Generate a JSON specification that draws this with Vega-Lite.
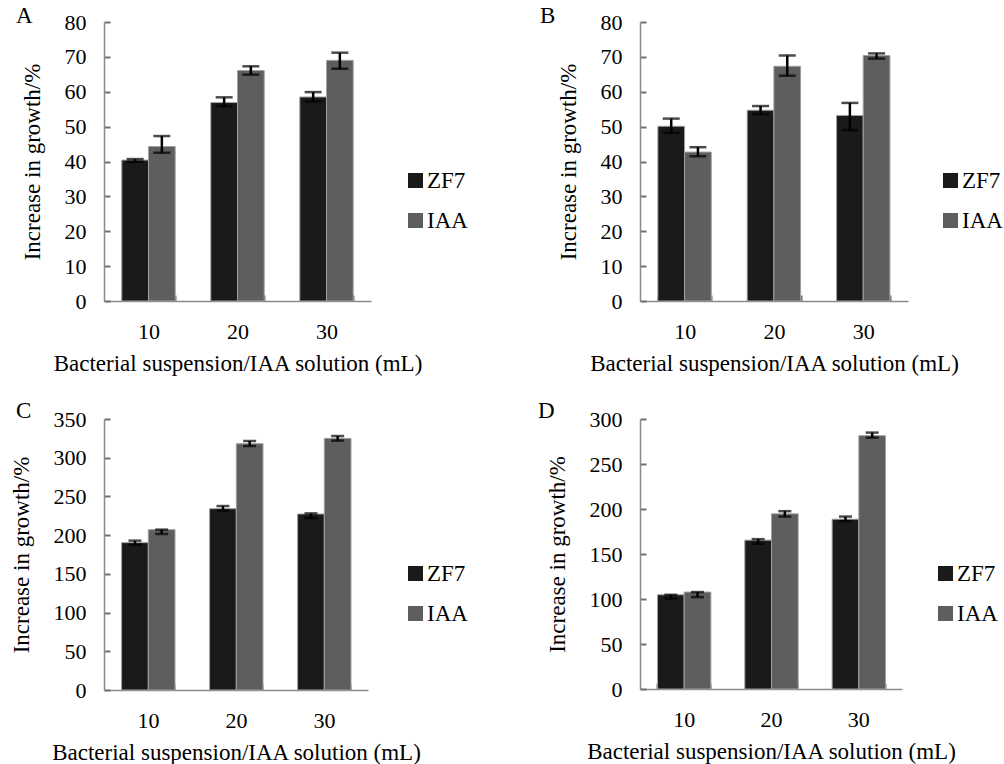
{
  "$schema": "https://vega.github.io/schema/vega-lite/v6.json",
  "padding": {"left": 10, "top": 5, "right": 5, "bottom": 5},
  "background": "white",
  "datasets": {
    "d": [
      {"panel": "A", "dose": "10", "trt": "ZF7", "value": 40.4, "lo": 39.9, "hi": 40.7},
      {"panel": "A", "dose": "10", "trt": "IAA", "value": 44.3, "lo": 42.5, "hi": 47.3},
      {"panel": "A", "dose": "20", "trt": "ZF7", "value": 56.9, "lo": 55.9, "hi": 58.4},
      {"panel": "A", "dose": "20", "trt": "IAA", "value": 66.1, "lo": 64.9, "hi": 67.3},
      {"panel": "A", "dose": "30", "trt": "ZF7", "value": 58.5, "lo": 57.2, "hi": 59.9},
      {"panel": "A", "dose": "30", "trt": "IAA", "value": 69.0, "lo": 66.6, "hi": 71.2},
      {"panel": "B", "dose": "10", "trt": "ZF7", "value": 50.1, "lo": 48.2, "hi": 52.3},
      {"panel": "B", "dose": "10", "trt": "IAA", "value": 42.7, "lo": 41.5, "hi": 44.1},
      {"panel": "B", "dose": "20", "trt": "ZF7", "value": 54.7, "lo": 53.6, "hi": 55.9},
      {"panel": "B", "dose": "20", "trt": "IAA", "value": 67.3, "lo": 64.6, "hi": 70.4},
      {"panel": "B", "dose": "30", "trt": "ZF7", "value": 53.2, "lo": 49.0, "hi": 56.8},
      {"panel": "B", "dose": "30", "trt": "IAA", "value": 70.4, "lo": 69.5, "hi": 71.0},
      {"panel": "C", "dose": "10", "trt": "ZF7", "value": 190.3, "lo": 187.7, "hi": 192.9},
      {"panel": "C", "dose": "10", "trt": "IAA", "value": 207.1, "lo": 201.5, "hi": 207.1},
      {"panel": "C", "dose": "20", "trt": "ZF7", "value": 234.2, "lo": 231.6, "hi": 237.6},
      {"panel": "C", "dose": "20", "trt": "IAA", "value": 318.1, "lo": 315.1, "hi": 321.6},
      {"panel": "C", "dose": "30", "trt": "ZF7", "value": 227.3, "lo": 222.1, "hi": 228.1},
      {"panel": "C", "dose": "30", "trt": "IAA", "value": 325.0, "lo": 322.0, "hi": 328.0},
      {"panel": "D", "dose": "10", "trt": "ZF7", "value": 104.7, "lo": 100.5, "hi": 104.7},
      {"panel": "D", "dose": "10", "trt": "IAA", "value": 107.7, "lo": 102.1, "hi": 107.7},
      {"panel": "D", "dose": "20", "trt": "ZF7", "value": 165.4, "lo": 161.3, "hi": 166.5},
      {"panel": "D", "dose": "20", "trt": "IAA", "value": 194.6, "lo": 191.6, "hi": 197.6},
      {"panel": "D", "dose": "30", "trt": "ZF7", "value": 188.7, "lo": 186.5, "hi": 191.6},
      {"panel": "D", "dose": "30", "trt": "IAA", "value": 281.5, "lo": 279.3, "hi": 284.9}
    ]
  },
  "config": {
    "view": {"stroke": null},
    "font": "Liberation Serif",
    "axis": {
      "grid": false,
      "domainColor": "#8a8a8a",
      "domainWidth": 1.5,
      "tickColor": "#707070",
      "tickWidth": 2,
      "tickSize": -6,
      "labelOverlap": false,
      "labelFont": "Liberation Serif",
      "labelFontSize": 22,
      "labelColor": "#000000",
      "titleFont": "Liberation Serif",
      "titleFontSize": 23,
      "titleFontWeight": "normal",
      "titleColor": "#000000"
    },
    "legend": {
      "labelFont": "Liberation Serif",
      "labelFontSize": 23,
      "labelColor": "#000000",
      "symbolType": "square",
      "symbolSize": 225,
      "symbolStrokeWidth": 0,
      "labelOffset": 0,
      "rowPadding": 16
    },
    "title": {"font": "Liberation Serif", "fontSize": 23, "fontWeight": "normal", "color": "#000000"}
  },
  "bounds": "flush",
  "columns": 2,
  "spacing": {"row": 118, "column": 269},
  "concat": [
    {
      "width": 267, "height": 279,
      "title": {"text": "A", "anchor": "start", "frame": "group", "dx": -88, "dy": 17, "offset": 0},
      "data": {"name": "d"},
      "transform": [{"filter": "datum.panel === 'A'"}],
      "encoding": {
        "x": {"field": "dose", "type": "nominal", "sort": ["10", "20", "30"], "scale": {"paddingInner": 0.4, "paddingOuter": 0.2},
          "axis": {"title": "Bacterial suspension/IAA solution (mL)", "labelAngle": 0, "tickBand": "extent", "labelPadding": 26, "titlePadding": 10}},
        "xOffset": {"field": "trt", "type": "nominal", "sort": ["ZF7", "IAA"]}
      },
      "layer": [
        {"mark": {"type": "bar", "stroke": "#a0a0a0", "strokeWidth": 1},
          "encoding": {
            "y": {"field": "value", "type": "quantitative", "scale": {"domain": [0, 80], "nice": false},
              "axis": {"title": "Increase in growth/%", "values": [0, 10, 20, 30, 40, 50, 60, 70, 80], "labelPadding": 24, "titlePadding": 20}},
            "color": {"field": "trt", "type": "nominal", "scale": {"domain": ["ZF7", "IAA"], "range": ["#1a1a1a", "#5e5e5e"]},
              "legend": {"title": null, "orient": "none", "legendX": 300, "legendY": 147}}
          }},
        {"mark": {"type": "rule", "color": "#000000", "strokeWidth": 2.5},
          "encoding": {"y": {"field": "lo", "type": "quantitative", "axis": {"title": "Increase in growth/%", "values": [0, 10, 20, 30, 40, 50, 60, 70, 80], "labelPadding": 24, "titlePadding": 20}}, "y2": {"field": "hi"}}},
        {"mark": {"type": "tick", "color": "#000000", "thickness": 2.5, "size": 17, "orient": "horizontal"},
          "encoding": {"y": {"field": "lo", "type": "quantitative", "axis": {"title": "Increase in growth/%", "values": [0, 10, 20, 30, 40, 50, 60, 70, 80], "labelPadding": 24, "titlePadding": 20}}}},
        {"mark": {"type": "tick", "color": "#000000", "thickness": 2.5, "size": 17, "orient": "horizontal"},
          "encoding": {"y": {"field": "hi", "type": "quantitative", "axis": {"title": "Increase in growth/%", "values": [0, 10, 20, 30, 40, 50, 60, 70, 80], "labelPadding": 24, "titlePadding": 20}}}}
      ]
    },
    {
      "width": 268, "height": 279,
      "title": {"text": "B", "anchor": "start", "frame": "group", "dx": -100, "dy": 17, "offset": 0},
      "data": {"name": "d"},
      "transform": [{"filter": "datum.panel === 'B'"}],
      "encoding": {
        "x": {"field": "dose", "type": "nominal", "sort": ["10", "20", "30"], "scale": {"paddingInner": 0.4, "paddingOuter": 0.2},
          "axis": {"title": "Bacterial suspension/IAA solution (mL)", "labelAngle": 0, "tickBand": "extent", "labelPadding": 26, "titlePadding": 10}},
        "xOffset": {"field": "trt", "type": "nominal", "sort": ["ZF7", "IAA"]}
      },
      "layer": [
        {"mark": {"type": "bar", "stroke": "#a0a0a0", "strokeWidth": 1},
          "encoding": {
            "y": {"field": "value", "type": "quantitative", "scale": {"domain": [0, 80], "nice": false},
              "axis": {"title": "Increase in growth/%", "values": [0, 10, 20, 30, 40, 50, 60, 70, 80], "labelPadding": 24, "titlePadding": 20}},
            "color": {"field": "trt", "type": "nominal", "scale": {"domain": ["ZF7", "IAA"], "range": ["#1a1a1a", "#5e5e5e"]},
              "legend": {"title": null, "orient": "none", "legendX": 299, "legendY": 147}}
          }},
        {"mark": {"type": "rule", "color": "#000000", "strokeWidth": 2.5},
          "encoding": {"y": {"field": "lo", "type": "quantitative", "axis": {"title": "Increase in growth/%", "values": [0, 10, 20, 30, 40, 50, 60, 70, 80], "labelPadding": 24, "titlePadding": 20}}, "y2": {"field": "hi"}}},
        {"mark": {"type": "tick", "color": "#000000", "thickness": 2.5, "size": 17, "orient": "horizontal"},
          "encoding": {"y": {"field": "lo", "type": "quantitative", "axis": {"title": "Increase in growth/%", "values": [0, 10, 20, 30, 40, 50, 60, 70, 80], "labelPadding": 24, "titlePadding": 20}}}},
        {"mark": {"type": "tick", "color": "#000000", "thickness": 2.5, "size": 17, "orient": "horizontal"},
          "encoding": {"y": {"field": "hi", "type": "quantitative", "axis": {"title": "Increase in growth/%", "values": [0, 10, 20, 30, 40, 50, 60, 70, 80], "labelPadding": 24, "titlePadding": 20}}}}
      ]
    },
    {
      "width": 264, "height": 271,
      "title": {"text": "C", "anchor": "start", "frame": "group", "dx": -88, "dy": 15, "offset": 0},
      "data": {"name": "d"},
      "transform": [{"filter": "datum.panel === 'C'"}],
      "encoding": {
        "x": {"field": "dose", "type": "nominal", "sort": ["10", "20", "30"], "scale": {"paddingInner": 0.4, "paddingOuter": 0.2},
          "axis": {"title": "Bacterial suspension/IAA solution (mL)", "labelAngle": 0, "tickBand": "extent", "labelPadding": 26, "titlePadding": 10}},
        "xOffset": {"field": "trt", "type": "nominal", "sort": ["ZF7", "IAA"]}
      },
      "layer": [
        {"mark": {"type": "bar", "stroke": "#a0a0a0", "strokeWidth": 1},
          "encoding": {
            "y": {"field": "value", "type": "quantitative", "scale": {"domain": [0, 350], "nice": false},
              "axis": {"title": "Increase in growth/%", "values": [0, 50, 100, 150, 200, 250, 300, 350], "labelPadding": 24, "titlePadding": 20}},
            "color": {"field": "trt", "type": "nominal", "scale": {"domain": ["ZF7", "IAA"], "range": ["#1a1a1a", "#5e5e5e"]},
              "legend": {"title": null, "orient": "none", "legendX": 300, "legendY": 143}}
          }},
        {"mark": {"type": "rule", "color": "#000000", "strokeWidth": 2.5},
          "encoding": {"y": {"field": "lo", "type": "quantitative", "axis": {"title": "Increase in growth/%", "values": [0, 50, 100, 150, 200, 250, 300, 350], "labelPadding": 24, "titlePadding": 20}}, "y2": {"field": "hi"}}},
        {"mark": {"type": "tick", "color": "#000000", "thickness": 2.5, "size": 13, "orient": "horizontal"},
          "encoding": {"y": {"field": "lo", "type": "quantitative", "axis": {"title": "Increase in growth/%", "values": [0, 50, 100, 150, 200, 250, 300, 350], "labelPadding": 24, "titlePadding": 20}}}},
        {"mark": {"type": "tick", "color": "#000000", "thickness": 2.5, "size": 13, "orient": "horizontal"},
          "encoding": {"y": {"field": "hi", "type": "quantitative", "axis": {"title": "Increase in growth/%", "values": [0, 50, 100, 150, 200, 250, 300, 350], "labelPadding": 24, "titlePadding": 20}}}}
      ]
    },
    {
      "width": 262, "height": 270,
      "title": {"text": "D", "anchor": "start", "frame": "group", "dx": -102, "dy": 15, "offset": 0},
      "data": {"name": "d"},
      "transform": [{"filter": "datum.panel === 'D'"}],
      "encoding": {
        "x": {"field": "dose", "type": "nominal", "sort": ["10", "20", "30"], "scale": {"paddingInner": 0.4, "paddingOuter": 0.2},
          "axis": {"title": "Bacterial suspension/IAA solution (mL)", "labelAngle": 0, "tickBand": "extent", "labelPadding": 26, "titlePadding": 10}},
        "xOffset": {"field": "trt", "type": "nominal", "sort": ["ZF7", "IAA"]}
      },
      "layer": [
        {"mark": {"type": "bar", "stroke": "#a0a0a0", "strokeWidth": 1},
          "encoding": {
            "y": {"field": "value", "type": "quantitative", "scale": {"domain": [0, 300], "nice": false},
              "axis": {"title": "Increase in growth/%", "values": [0, 50, 100, 150, 200, 250, 300], "labelPadding": 24, "titlePadding": 20}},
            "color": {"field": "trt", "type": "nominal", "scale": {"domain": ["ZF7", "IAA"], "range": ["#1a1a1a", "#5e5e5e"]},
              "legend": {"title": null, "orient": "none", "legendX": 294, "legendY": 143}}
          }},
        {"mark": {"type": "rule", "color": "#000000", "strokeWidth": 2.5},
          "encoding": {"y": {"field": "lo", "type": "quantitative", "axis": {"title": "Increase in growth/%", "values": [0, 50, 100, 150, 200, 250, 300], "labelPadding": 24, "titlePadding": 20}}, "y2": {"field": "hi"}}},
        {"mark": {"type": "tick", "color": "#000000", "thickness": 2.5, "size": 13, "orient": "horizontal"},
          "encoding": {"y": {"field": "lo", "type": "quantitative", "axis": {"title": "Increase in growth/%", "values": [0, 50, 100, 150, 200, 250, 300], "labelPadding": 24, "titlePadding": 20}}}},
        {"mark": {"type": "tick", "color": "#000000", "thickness": 2.5, "size": 13, "orient": "horizontal"},
          "encoding": {"y": {"field": "hi", "type": "quantitative", "axis": {"title": "Increase in growth/%", "values": [0, 50, 100, 150, 200, 250, 300], "labelPadding": 24, "titlePadding": 20}}}}
      ]
    }
  ],
  "resolve": {"scale": {"color": "independent", "y": "independent", "x": "independent"}, "legend": {"color": "independent"}, "axis": {"x": "independent", "y": "independent"}}
}
